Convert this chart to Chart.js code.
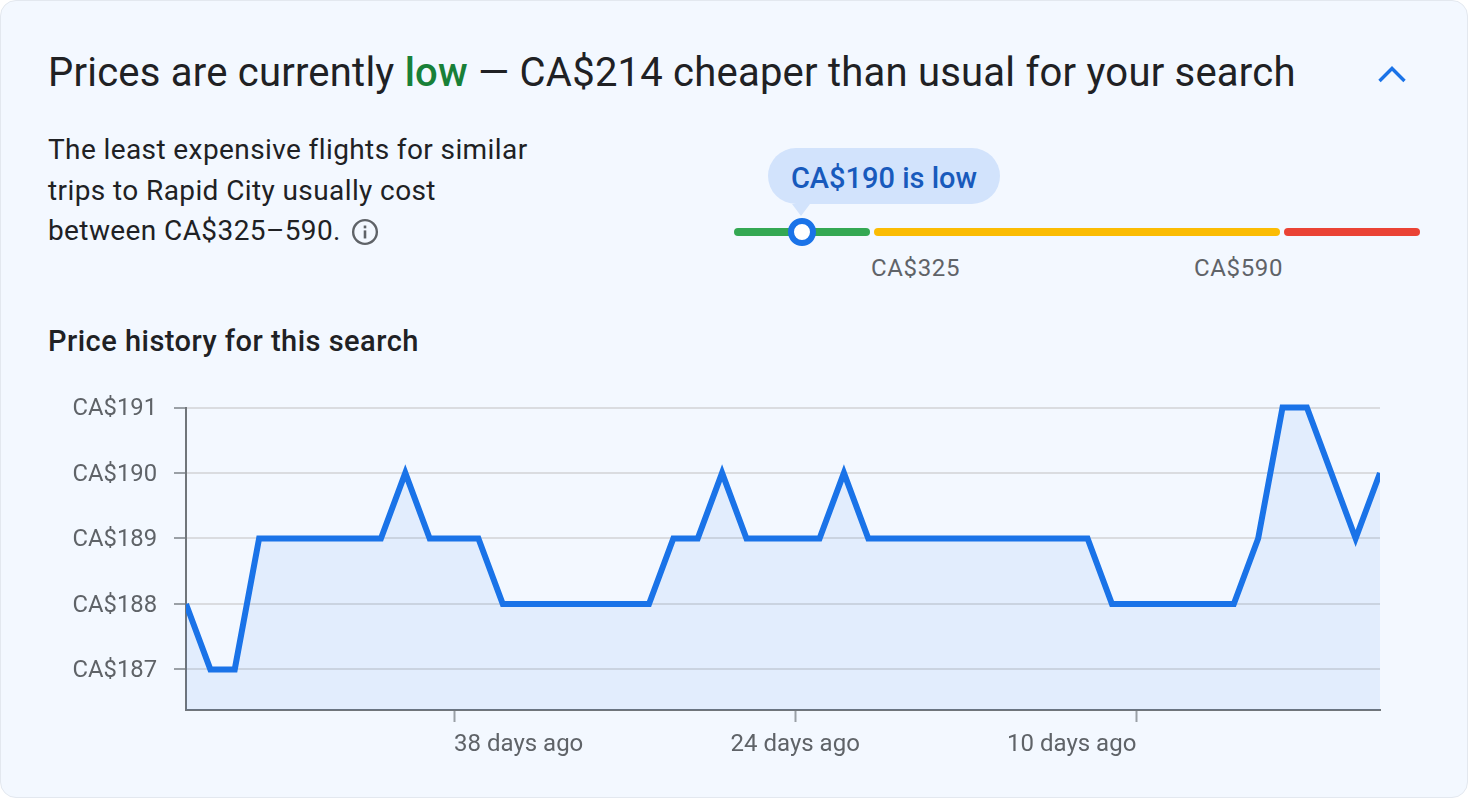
<!DOCTYPE html>
<html>
<head>
<meta charset="utf-8">
<title>Price history</title>
<script src="https://cdn.jsdelivr.net/npm/chart.js@4"></script>
<style>
  html, body { margin: 0; padding: 0; background: #fff; overflow: hidden; }
  #card {
    position: absolute; left: 0; top: 0; width: 1466px; height: 796px;
    background: #f3f8ff; border: 1px solid #e3e8ef; border-radius: 16px;
    font-family: Roboto, sans-serif; color: #202124; overflow: hidden;
  }
  #card > * { position: absolute; white-space: nowrap; }
  #headline { left: 47px; top: 47px; font-size: 40px; line-height: 50px; letter-spacing: .22px; }
  #headline b { font-weight: 500; color: #188038; }
  #desc { left: 47px; top: 129px; font-size: 28px; line-height: 40.5px; letter-spacing: .4px; }
  #desc svg { vertical-align: -6px; margin-left: 3px; }
  #subtitle { left: 47px; top: 322px; font-size: 29px; line-height: 36px; font-weight: 500; letter-spacing: .48px; }
  #bubble {
    left: 767px; top: 147px; width: 232px; height: 56px; border-radius: 28px;
    background: #d2e3fc; color: #185abc; font-size: 29px; font-weight: 500;
    line-height: 60px; text-align: center;
  }
  #pointer {
    left: 791px; top: 203px; width: 0; height: 0;
    border-left: 9px solid transparent; border-right: 9px solid transparent;
    border-top: 12px solid #d2e3fc;
  }
  .seg { top: 227px; height: 8px; border-radius: 4px; }
  #marker {
    left: 787px; top: 217px; width: 16px; height: 16px; border: 6px solid #1a73e8;
    border-radius: 50%; background: #fff;
  }
  .limit { top: 252px; font-size: 24px; line-height: 30px; color: #5f6368; letter-spacing: .65px; }
  #chevron { left: 1374px; top: 60px; }
  #priceChart { left: -1px; top: 359px; }
</style>
</head>
<body>
<div id="card">
  <div id="headline">Prices are currently <b>low</b> — CA$214 cheaper than usual for your search</div>
  <svg id="chevron" width="34" height="26" viewBox="0 0 34 26"><path d="M4.5 20 L17 7.5 L29.5 20" fill="none" stroke="#1a73e8" stroke-width="3.4"/></svg>
  <div id="desc">The least expensive flights for similar<br>trips to Rapid City usually cost<br>between CA$325–590.
    <svg width="28" height="28" viewBox="0 0 26 26"><circle cx="13" cy="13" r="11" fill="none" stroke="#5f6368" stroke-width="2.2"/><rect x="11.8" y="11.5" width="2.4" height="7.5" fill="#5f6368"/><rect x="11.8" y="7" width="2.4" height="2.6" fill="#5f6368"/></svg>
  </div>
  <div id="bubble">CA$190 is low</div>
  <div id="pointer"></div>
  <div class="seg" style="left:733px;width:136px;background:#34a853"></div>
  <div class="seg" style="left:873px;width:406px;background:#fbbc04"></div>
  <div class="seg" style="left:1283px;width:136px;background:#ea4335"></div>
  <div id="marker"></div>
  <div class="limit" style="left:870px">CA$325</div>
  <div class="limit" style="left:1193px">CA$590</div>
  <div id="subtitle">Price history for this search</div>
  <canvas id="priceChart" width="1468" height="438"></canvas>
</div>
<script>
// days before today, oldest first
const daysAgo = [49, 48, 47, 46, 45, 44, 43, 42, 41, 40, 39, 38, 37, 36, 35, 34, 33,
  32, 31, 30, 29, 28, 27, 26, 25, 24, 23, 22, 21, 20, 19, 18, 17, 16, 15, 14, 13, 12,
  11, 10, 9, 8, 7, 6, 5, 4, 3, 2, 1, 0];
const prices = [188, 187, 187, 189, 189, 189, 189, 189, 189, 190, 189, 189, 189, 188,
  188, 188, 188, 188, 188, 188, 189, 189, 190, 189, 189, 189, 189, 190, 189, 189, 189,
  189, 189, 189, 189, 189, 189, 189, 188, 188, 188, 188, 188, 188, 189, 191, 191, 190,
  189, 190];
const yTicks = [187, 188, 189, 190, 191];
const xTickDays = [38, 24, 10];
const xTickAlign = ["left", "center", "right"];

const labelFont = "24px Roboto, sans-serif";
const labelColor = "#5f6368";
const tickColor = "#9aa0a6";

// each x label has its own alignment, ticks.align can only do one for the whole axis
const xLabels = {
  id: "xLabels",
  afterDraw(chart) {
    const ctx = chart.ctx;
    const x = chart.scales.x;
    ctx.save();
    ctx.font = labelFont;
    ctx.fillStyle = labelColor;
    ctx.textBaseline = "middle";
    xTickDays.forEach((d, i) => {
      ctx.textAlign = xTickAlign[i];
      ctx.fillText(d + " days ago", x.getPixelForValue(daysAgo.indexOf(d)), x.top + 35);
    });
    ctx.restore();
  },
};

new Chart(document.getElementById("priceChart"), {
  type: "line",
  data: {
    labels: daysAgo,
    datasets: [
      {
        data: prices,
        borderColor: "#1a73e8",
        borderWidth: 6,
        backgroundColor: "rgba(26, 115, 232, 0.08)",
        fill: "start",
        pointRadius: 0,
        tension: 0,
        clip: { left: 0, right: 0, top: 6, bottom: 0 },
      },
    ],
  },
  plugins: [xLabels],
  options: {
    responsive: false,
    animation: false,
    layout: { padding: { top: 47.5, right: 88, left: 0, bottom: 0 } },
    plugins: { legend: { display: false }, tooltip: { enabled: false } },
    scales: {
      x: {
        type: "category",
        offset: false,
        afterFit: (s) => { s.height = 88; },
        afterBuildTicks: (s) => {
          s.ticks = xTickDays.map((d) => ({ value: daysAgo.indexOf(d) }));
        },
        grid: { drawOnChartArea: false, tickLength: 12, tickColor: tickColor, tickWidth: 2 },
        border: { color: "#70757a", width: 2 },
        ticks: { display: false, autoSkip: false, maxRotation: 0 },
      },
      y: {
        min: 186.38,
        max: 191,
        afterFit: (s) => { s.width = 186; },
        afterBuildTicks: (s) => {
          s.ticks = yTicks.map((v) => ({ value: v }));
        },
        grid: { color: "#dadce0", lineWidth: 2, tickLength: 12, tickColor: tickColor },
        border: { color: "#70757a", width: 2 },
        ticks: {
          color: labelColor,
          font: { family: "Roboto, sans-serif", size: 23.8 },
          padding: 17,
          labelOffset: 2,
          callback: (v) => "CA$" + v,
        },
      },
    },
  },
});
</script>
</body>
</html>
